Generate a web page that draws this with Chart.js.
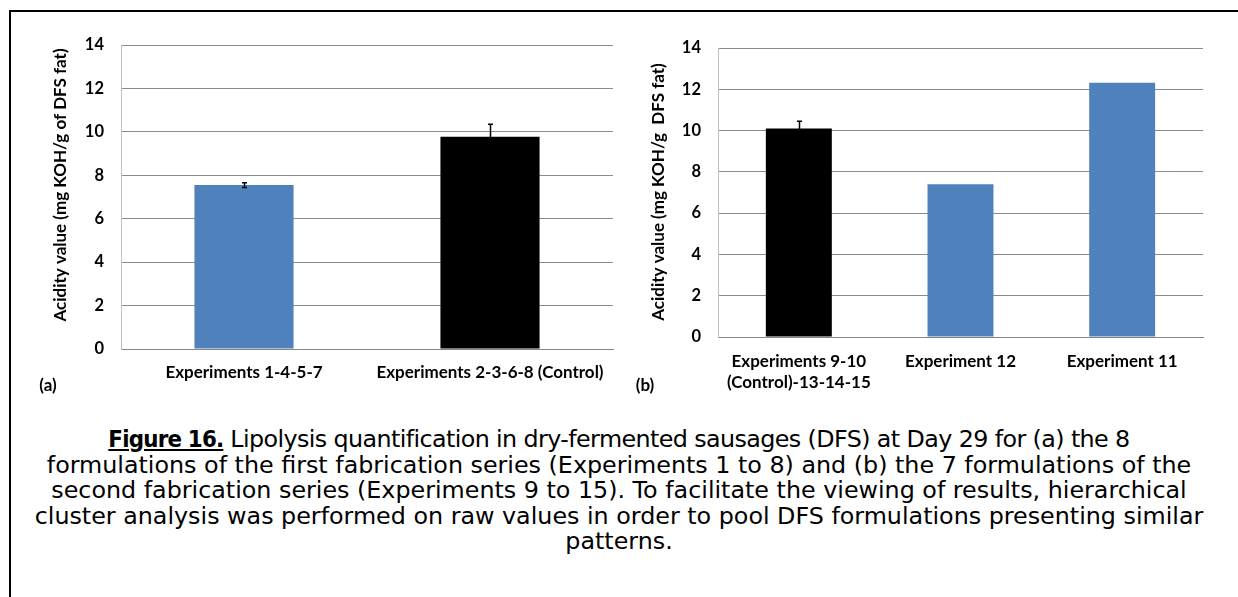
<!DOCTYPE html>
<html>
<head>
<meta charset="utf-8">
<script src="https://cdn.jsdelivr.net/npm/chart.js@4.4.1/dist/chart.umd.min.js"></script>
<style>
  html, body { margin:0; padding:0; background:#fff; width:1238px; height:597px; overflow:hidden; position:relative; }
  #frame { position:absolute; left:9px; top:10px; width:3000px; height:3000px; border:2px solid #000; box-sizing:border-box; }
  canvas { position:absolute; top:0; }
  #ca { left:0; }
  #cb { left:620px; }
  .lab { position:absolute; font-family: Lato, sans-serif; font-weight:bold; font-size:17px; color:#000; transform:translate(-50%,-50%); white-space:nowrap; }
  #caption { position:absolute; left:0; width:1238px; top:427px; text-align:center; font-family:"DejaVu Sans", sans-serif; font-size:23.8px; line-height:25.5px; color:#000; white-space:nowrap; }
  #caption b { text-decoration: underline; font-family:"DejaVu Sans Condensed", "DejaVu Sans", sans-serif; font-stretch: condensed; letter-spacing:-0.8px; }
  #caption .l1 { letter-spacing:-0.6px; }
</style>
</head>
<body>
<div id="frame"></div>
<canvas id="ca" width="620" height="400"></canvas>
<canvas id="cb" width="618" height="400"></canvas>
<div class="lab" style="left:48px; top:384px;">(a)</div>
<div class="lab" style="left:645px; top:384px;">(b)</div>
<div id="caption"><b>Figure 16.</b><span class="l1"> Lipolysis quantification in dry-fermented sausages (DFS) at Day 29 for (a) the 8</span><br>formulations of the first fabrication series (Experiments 1 to 8) and (b) the 7 formulations of the<br>second fabrication series (Experiments 9 to 15). To facilitate the viewing of results, hierarchical<br>cluster analysis was performed on raw values in order to pool DFS formulations presenting similar<br>patterns.</div>
<script>
// ---- data ----
const categoriesA = ["Experiments 1-4-5-7", "Experiments 2-3-6-8 (Control)"];
const valuesA = [7.55, 9.77];
const errorsA = [0.11, 0.58];
const colorsA = ["#4F81BD", "#000000"];

const categoriesB = [["Experiments 9-10", "(Control)-13-14-15"], "Experiment 12", "Experiment 11"];
const valuesB = [10.1, 7.4, 12.32];
const errorsB = [0.35, 0, 0];
const colorsB = ["#000000", "#4F81BD", "#4F81BD"];

const yTicks = [0, 2, 4, 6, 8, 10, 12, 14];
const yTitleA = "Acidity value (mg KOH/g of DFS fat)";
const yTitleB = "Acidity value (mg KOH/g  DFS fat)";

// ---- plugins ----
const errorBarPlugin = {
  id: 'errorBars',
  afterDatasetsDraw(chart, args, opts) {
    const ctx = chart.ctx;
    const ys = chart.scales.y;
    const meta = chart.getDatasetMeta(0);
    const vals = chart.data.datasets[0].data;
    const errs = opts.errors || [];
    ctx.save();
    ctx.strokeStyle = '#000';
    ctx.lineWidth = 1.5;
    meta.data.forEach((bar, i) => {
      const e = errs[i];
      if (!e) return;
      const x = Math.round(bar.x) + 0.5;
      const yTop = ys.getPixelForValue(vals[i] + e);
      const yBot = ys.getPixelForValue(vals[i] - e);
      ctx.beginPath();
      ctx.moveTo(x, yBot); ctx.lineTo(x, yTop);
      ctx.moveTo(x - 2.5, yTop); ctx.lineTo(x + 2.5, yTop);
      ctx.moveTo(x - 2.5, yBot); ctx.lineTo(x + 2.5, yBot);
      ctx.stroke();
    });
    ctx.restore();
  }
};

const yTitlePlugin = {
  id: 'yTitle',
  afterDraw(chart, args, opts) {
    const ctx = chart.ctx;
    ctx.save();
    ctx.font = 'bold 17px Lato, sans-serif';
    ctx.fillStyle = '#000';
    ctx.textAlign = 'center';
    ctx.textBaseline = 'middle';
    ctx.translate(opts.x, opts.y);
    ctx.rotate(-Math.PI / 2);
    ctx.fillText(opts.text, 0, 0);
    ctx.restore();
  }
};

function makeChart(id, labels, values, colors, errors, axisW, axisH, pad, xPad, title, titlePos, barPct) {
  return new Chart(document.getElementById(id), {
    type: 'bar',
    data: {
      labels: labels,
      datasets: [{ data: values, backgroundColor: colors, borderWidth: 0,
        categoryPercentage: 1.0, barPercentage: barPct }]
    },
    options: {
      responsive: false,
      animation: false,
      devicePixelRatio: 1,
      layout: { padding: pad },
      plugins: {
        legend: { display: false },
        tooltip: { enabled: false },
        errorBars: { errors: errors },
        yTitle: { text: title, x: titlePos[0], y: titlePos[1] }
      },
      scales: {
        x: {
          grid: { display: false, drawTicks: false },
          border: { display: true, color: '#868686', width: 1 },
          ticks: { color: '#000', font: { family: 'Lato', weight: 'bold', size: 17, lineHeight: 1.25 }, padding: xPad, maxRotation: 0, autoSkip: false },
          afterFit(s) { s.height = axisH; }
        },
        y: {
          min: 0, max: 14,
          afterBuildTicks(s) { s.ticks = yTicks.map(v => ({ value: v })); },
          grid: { color: '#8c8c8c', lineWidth: 1, drawTicks: false },
          border: { display: true, color: '#bfbfbf', width: 1 },
          ticks: { color: '#000', font: { family: 'Lato', weight: 'bold', size: 16.5 }, padding: 17 },
          afterFit(s) { s.width = axisW; }
        }
      }
    },
    plugins: [errorBarPlugin, yTitlePlugin]
  });
}

makeChart('ca', categoriesA, valuesA, colorsA, errorsA, 121, 51,
  { left: 0, top: 45, right: 7, bottom: 0 }, 13, yTitleA, [61, 185], 0.403);
makeChart('cb', categoriesB, valuesB, colorsB, errorsB, 98, 63,
  { left: 0, top: 48, right: 35, bottom: 0 }, 14, yTitleB, [39, 192], 0.408);
</script>
</body>
</html>
